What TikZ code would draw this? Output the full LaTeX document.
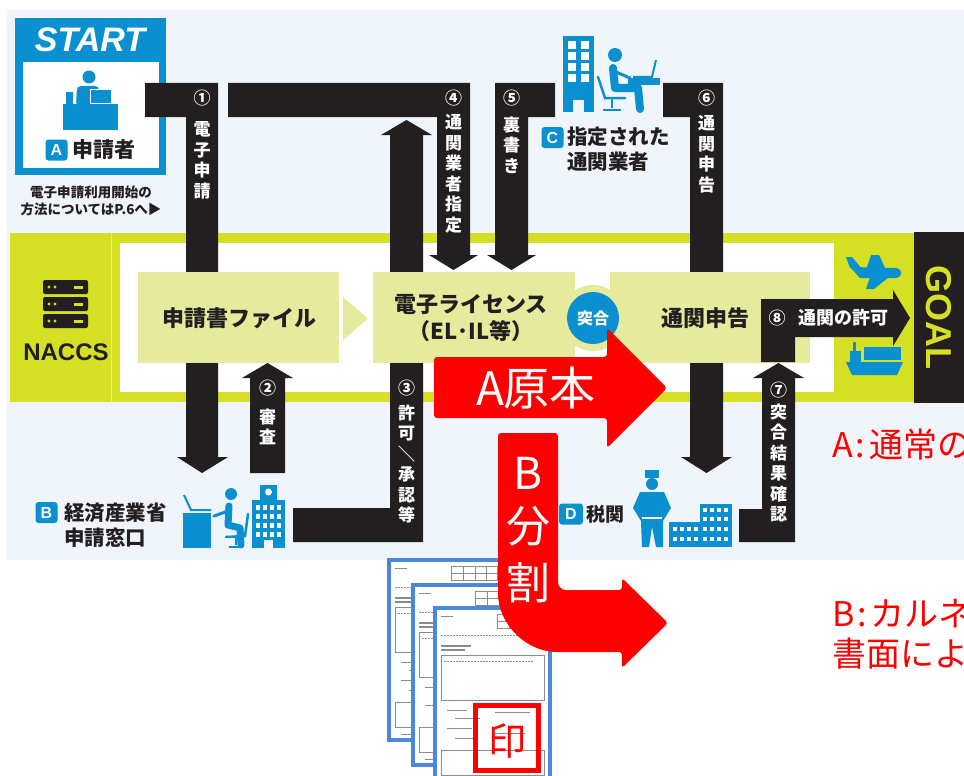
\documentclass[tikz,border=0pt]{standalone}
\usepackage{fontspec}
\usepackage{graphicx}
\setsansfont{Liberation Sans}
\newfontfamily\cjk{Noto Sans CJK JP}[BoldFont={Noto Sans CJK JP Black}]

\definecolor{barblack}{HTML}{231F20}
\definecolor{bandgreen}{HTML}{D5DF23}
\definecolor{boxyellow}{HTML}{E6EA9C}
\definecolor{iconblue}{HTML}{0A8FD0}
\definecolor{bgblue}{HTML}{EFF5FA}
\definecolor{docblue}{HTML}{4A88DE}
\definecolor{alertred}{HTML}{FF0000}

\tikzset{
  flowbar/.style={fill=barblack},
  stepbox/.style={fill=boxyellow},
  vlabel/.style={text=white, font=\cjk\bfseries\fontsize{17}{20.5}\selectfont, align=center, inner sep=0pt, anchor=north},
  numlabel/.style={text=white, font=\cjk\bfseries\fontsize{17}{17}\selectfont, inner sep=0pt},
  boxtext/.style={text=barblack, font=\cjk\bfseries\fontsize{22}{27}\selectfont, align=center, inner sep=0pt},
  roletext/.style={text=barblack, font=\cjk\bfseries\fontsize{20.5}{25}\selectfont, align=left, inner sep=0pt, anchor=west},
  badge/.style={fill=iconblue, rounded corners=3, text=white, font=\sffamily\bfseries\fontsize{16}{16}\selectfont, minimum width=22, minimum height=21, inner sep=0pt},
  redarrow/.style={fill=alertred, rounded corners=3},
  redtext/.style={text=alertred, font=\cjk\fontsize{34}{40}\selectfont, anchor=west, inner sep=0pt},
  docpage/.style={draw=docblue, line width=4, fill=white},
  formline/.style={draw=black!45, line width=0.4},
}

\begin{document}
\begin{tikzpicture}[x=1pt,y=-1pt]

\useasboundingbox (0,0) rectangle (964,776);
\clip (0,0) rectangle (964,776);
\fill[white] (0,0) rectangle (964,776);
\fill[bgblue] (7,10) rectangle (964,560);

% START / applicant
\fill[iconblue] (15,18) rectangle (166,175);
\fill[white] (23,62) rectangle (159,168);
\node[text=white, font=\sffamily\bfseries\itshape\fontsize{34}{34}\selectfont] (start) at (90,40) {START};
\fill[iconblue] (63,104) rectangle (118,130);
\fill[iconblue] (89,77) circle (6.5);
\fill[iconblue, rounded corners=4] (76,106) -- (77,86) -- (99,86) -- (99,106) -- cycle;
\fill[iconblue] (66,92) rectangle (73,104);
\fill[iconblue] (90,89) rectangle (111,103);
\draw[white, line width=0.8] (90,89) rectangle (111,103);
\node[badge] (badgeA) at (56.5,150) {A};
\node[roletext, font=\cjk\bfseries\fontsize{21}{25}\selectfont] (roleA) at (72,150) {申請者};
\node[text=barblack, font=\cjk\bfseries\fontsize{13.5}{17}\selectfont, align=center, inner sep=0pt] (howto) at (91,201) {電子申請利用開始の\\方法についてはP.6へ▶};

% NACCS band
\fill[bandgreen] (10,233) rectangle (914,402);
\fill[white] (120,243) rectangle (834,392);
\draw[bandgreen!55!white, line width=1] (111,233) -- (111,402);
\foreach \yy in {280,297,314} {
  \fill[barblack, rounded corners=2] (43,\yy) rectangle (88,\yy+14);
  \fill[bandgreen] (49,\yy+7) circle (1.6) (55,\yy+7) circle (1.6);
  \fill[bandgreen] (74,\yy+5.5) rectangle (83,\yy+8.5);
}
\node[text=barblack, font=\sffamily\bfseries\fontsize{24}{24}\selectfont] (naccs) at (66,352) {NACCS};

% flow bars
\fill[flowbar] (145,83) -- (218,83) -- (218,457) -- (228,457) -- (202,473) -- (177,457) -- (186,457) -- (186,117) -- (145,117) -- cycle;
\fill[flowbar] (250,473) -- (250,378) -- (242,378) -- (267.5,363) -- (293,378) -- (285,378) -- (285,473) -- cycle;
\fill[flowbar] (293,508) -- (390,508) -- (390,135) -- (381,135) -- (406.5,120) -- (432,135) -- (423,135) -- (423,542) -- (293,542) -- cycle;
\fill[flowbar] (228,83) -- (470,83) -- (470,255) -- (478,255) -- (453.5,270) -- (429,255) -- (437,255) -- (437,117) -- (228,117) -- cycle;
\fill[flowbar] (495,83) -- (555,83) -- (555,117) -- (528,117) -- (528,255) -- (536,255) -- (511.5,270) -- (487,255) -- (495,255) -- cycle;
\fill[flowbar] (663,83) -- (723,83) -- (723,457) -- (732,457) -- (706.5,473) -- (681,457) -- (690,457) -- (690,117) -- (663,117) -- cycle;
\fill[flowbar] (739,509) -- (762,509) -- (762,378) -- (753,378) -- (778.5,363) -- (804,378) -- (795,378) -- (795,542) -- (739,542) -- cycle;

% NACCS steps
\fill[stepbox] (138,272) rectangle (339,363);
\fill[stepbox] (343,297) -- (368,318.5) -- (343,340) -- cycle;
\fill[stepbox] (373,272) rectangle (575,363);
\fill[stepbox] (610,272) rectangle (810,363);
\fill[stepbox] (593,318) circle (33);
\fill[iconblue] (593,318) circle (26);
\fill[flowbar] (761,299) -- (893,299) -- (893,290) -- (910,318) -- (893,346) -- (893,337) -- (795,337) -- (795,362) -- (761,362) -- cycle;

\node[boxtext] (appfile) at (239,318) {申請書ファイル};
\node[boxtext] (elicense) at (471,318) {電子ライセンス\\（EL･IL等）};
\node[text=white, font=\cjk\bfseries\fontsize{16}{16}\selectfont, inner sep=0pt] (match) at (593,318) {突合};
\node[boxtext] (declare) at (705,318) {通関申告};

\foreach \nm/\xx/\yy/\num in {one/202/98/①, two/267.5/388/②, three/406.5/388/③, four/453.5/98/④, five/511.5/98/⑤, six/706.5/98/⑥, seven/778.5/390/⑦}
  \node[numlabel] (num\nm) at (\xx,\yy) {\num};
\foreach \nm/\xx/\yy/\txt in {one/202/121.5/{電\\子\\申\\請}, two/267.5/408.5/{審\\査}, three/406.5/404.5/{許\\可\\\rotatebox[origin=c]{-90}{／}\\承\\認\\等}, four/453.5/114.5/{通\\関\\業\\者\\指\\定}, five/511.5/116.5/{裏\\書\\き}, six/706.5/115.5/{通\\関\\申\\告}, seven/778.5/403.5/{突\\合\\結\\果\\確\\認}}
  \node[vlabel] (step\nm) at (\xx,\yy) {\txt};
\node[numlabel] (numeight) at (777,318) {⑧};
\node[numlabel, font=\cjk\bfseries\fontsize{18}{18}\selectfont] (stepeight) at (843,318) {通関の許可};

% GOAL
\fill[barblack] (914,232) rectangle (964,403);
\node[text=bandgreen, rotate=-90, font=\sffamily\bfseries\fontsize{36}{36}\selectfont] (goal) at (939,317) {GOAL};
\fill[iconblue] (850,267) -- (896,268) .. controls (903,269) and (903,277) .. (896,278) -- (860,278) -- cycle;
\fill[iconblue] (866,270) -- (871,255) -- (879,255) -- (886,270) -- cycle;
\fill[iconblue] (870,277) -- (866,289) -- (874,289) -- (889,277) -- cycle;
\fill[iconblue] (850,268) -- (846,257) -- (852,257) -- (861,268) -- cycle;
\fill[iconblue] (846,362) -- (903,362) -- (897,375) -- (852,375) -- cycle;
\fill[iconblue] (864,347) rectangle (901,360);
\fill[iconblue] (850,351) rectangle (861,362);
\fill[iconblue] (853,342) rectangle (856,351);

% ministry window
\fill[iconblue] (183,513) rectangle (211,548);
\draw[iconblue, line width=2] (184,495) -- (191,510) -- (211,510);
\fill[iconblue] (231,494) circle (6);
\draw[iconblue, line width=7, line cap=round, line join=round] (229,506) -- (228,525) -- (240,528) -- (241,545);
\draw[iconblue, line width=3, line cap=round] (228,511) -- (214,516);
\draw[iconblue, line width=2.5, line cap=round] (248,514) -- (245,536) -- (226,537);
\draw[iconblue, line width=1.5] (236,537) -- (236,545) (229,547) -- (243,547);
\fill[iconblue] (260,485) rectangle (277,500);
\fill[iconblue] (252,500) rectangle (285,548);
\fill[white] (268.5,492) circle (3.5);
\foreach \wx in {256,263,270,277}
  \foreach \wy in {505,514,523,532}
    \fill[white] (\wx,\wy) rectangle +(4,5);
\fill[bgblue] (264,540) rectangle (273,548);
\node[badge] (badgeB) at (46.5,512.5) {B};
\node[roletext] (roleB) at (64,525.5) {経済産業省\\申請窓口};

% customs broker
\fill[iconblue] (563,36) rectangle (594,112);
\foreach \wx in {568,581}
  \foreach \wy in {41,52,63,74}
    \fill[white] (\wx,\wy) rectangle +(8,8);
\fill[bgblue] (573,100) rectangle (584,112);
\fill[iconblue] (615,55) circle (7);
\draw[iconblue, line width=8, line cap=round, line join=round] (613,68) -- (615,88) -- (638,88) -- (640,109);
\draw[iconblue, line width=3, line cap=round] (616,72) -- (630,78);
\draw[iconblue, line width=2.5, line cap=round] (598,77) -- (605,98) -- (625,98);
\draw[iconblue, line width=1.5] (612,98) -- (612,108) (603,110) -- (621,110);
\fill[iconblue] (628,78) rectangle (660,85);
\draw[iconblue, line width=2] (633,77) -- (652,77) -- (656,60);
\node[badge] (badgeC) at (552.5,137.5) {C};
\node[roletext] (roleC) at (567,149.5) {指定された\\通関業者};

% customs
\fill[iconblue] (645,470) rectangle (659,478);
\fill[iconblue] (652,484) circle (6);
\fill[iconblue] (640,492) -- (664,492) -- (671,508) -- (663,521) -- (663,547) -- (656,547) -- (652,527) -- (649,547) -- (642,547) -- (641,521) -- (633,508) -- cycle;
\draw[white, line width=1.2] (642,518) -- (662,518);
\fill[iconblue] (669,522) rectangle (732,547);
\fill[iconblue] (700,504) rectangle (732,547);
\foreach \wx in {673,680,687,694,703,710,717,724}
  \foreach \wy in {527,537}
    \fill[white] (\wx,\wy) rectangle +(4,4);
\foreach \wx in {703,710,717,724}
  \foreach \wy in {508,517}
    \fill[white] (\wx,\wy) rectangle +(4,4);
\node[badge, minimum width=24] (badgeD) at (571,514) {D};
\node[roletext, font=\cjk\bfseries\fontsize{19}{19}\selectfont] (roleD) at (586,514) {税関};

% paper forms
\foreach \px/\py in {389/560, 413/585, 435/608} {
  \draw[docpage] (\px,\py) rectangle +(115,180);
  \draw[formline] (\px+6,\py+8) -- +(12,0);
  \draw[formline] (\px+62,\py+6) rectangle +(46,14);
  \draw[formline] (\px+62,\py+13) -- +(46,0) (\px+74,\py+6) -- +(0,14) (\px+86,\py+6) -- +(0,14) (\px+97,\py+6) -- +(0,14);
  \draw[formline, dash pattern=on 2pt off 1pt] (\px+6,\py+27) -- +(100,0);
  \draw[formline, line width=1.2] (\px+6,\py+38) -- +(30,0) (\px+6,\py+42) -- +(24,0);
  \draw[formline] (\px+6,\py+47) rectangle +(103,45);
  \draw[formline, dash pattern=on 2pt off 1pt] (\px+9,\py+53) -- +(90,0);
  \draw[formline] (\px+12,\py+102) -- +(20,0) (\px+20,\py+110) -- +(25,0) (\px+60,\py+104) -- +(35,0);
  \draw[formline] (\px+12,\py+120) -- +(25,0) (\px+20,\py+130) -- +(20,0) (\px+60,\py+125) -- +(30,0);
  \draw[formline] (\px+6,\py+142) rectangle +(103,25);
  \draw[formline] (\px+12,\py+174) -- +(40,0);
}
\draw[alertred, line width=5] (475.5,705.5) rectangle (538.5,770);
\node[text=alertred, font=\cjk\fontsize{38}{38}\selectfont, inner sep=0pt] (seal) at (507,741) {印};

% original / split routes
\fill[redarrow] (434,357) -- (607,357) -- (607,328) -- (667,388) -- (607,448) -- (607,418) -- (434,418) -- cycle;
\node[text=white, font=\cjk\fontsize{46}{46}\selectfont, inner sep=0pt] (original) at (536,388) {A原本};
\fill[redarrow] (498,433) -- (558,433) -- (558,580) .. controls (558,586) and (562,590) .. (568,590) -- (622,590) -- (622,578) -- (668,623) -- (622,668) -- (622,652) -- (560,652) .. controls (526,652) and (498,624) .. (498,590) -- cycle;
\foreach \nm/\ch/\yy in {b/B/473, bun/分/526, katsu/割/583}
  \node[text=white, font=\cjk\fontsize{44}{44}\selectfont, inner sep=0pt] (split\nm) at (528,\yy) {\ch};

\node[redtext] (noteA) at (832,445) {A\kern3pt:\kern4pt通常の};
\node[redtext] (noteB) at (832,614) {B\kern3pt:\kern4ptカルネ通};
\node[redtext] (noteBtwo) at (832,654) {書面によ};

\end{tikzpicture}
\end{document}
